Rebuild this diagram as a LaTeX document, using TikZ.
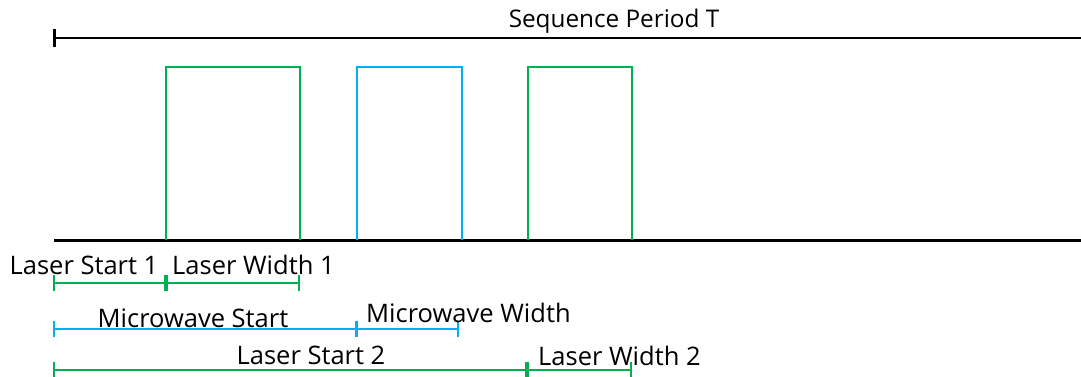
\documentclass[tikz,border=0pt]{standalone}
\usepackage{fontspec}
\setmainfont{Open Sans}
\usetikzlibrary{positioning}
\definecolor{lasergreen}{RGB}{0,176,80}
\definecolor{mwblue}{RGB}{0,176,240}
\tikzset{
    pulse/.style={line width=2pt},
    span/.style={line width=2pt},
    lbl/.style={inner sep=0pt, font=\fontsize{25.5}{30}\selectfont},
    ttl/.style={inner sep=0pt, font=\fontsize{24.3}{29}\selectfont}
}

\begin{document}
\begin{tikzpicture}[x=1pt, y=-1pt]
        \useasboundingbox (0,0) rectangle (1081,376);
        % time axis
        \coordinate (T0) at (54,38);
        \coordinate (T1) at (1081,38);
        \coordinate (B0) at (54,240);
        \coordinate (B1) at (1081,240);
        \draw[line width=2.5pt] (T0) -- (T1);
        \draw[line width=3pt] ([yshift=-9pt]T0) -- ([yshift=9pt]T0);
        \node[ttl] (title) at (614,21) {Sequence Period T};
        \draw[line width=3pt] (B0) -- (B1);
        
        % pulses
        \draw[pulse, lasergreen] (166,240) -- (166,67) -- (300,67) -- (300,240);
        \draw[pulse, mwblue] (357,240) -- (357,67) -- (462,67) -- (462,240);
        \draw[pulse, lasergreen] (528,240) -- (528,67) -- (632,67) -- (632,240);
        
        % laser 1
        \coordinate (a0) at (54,283);
        \coordinate (a1) at (166,283);
        \coordinate (a2) at (299,283);
        \draw[span, lasergreen] (a0) -- (a1) -- (a2);
        \draw[span, lasergreen] ([yshift=-8pt]a0) -- ([yshift=8pt]a0);
        \draw[line width=4pt, lasergreen] ([yshift=-8pt]a1) -- ([yshift=8pt]a1);
        \draw[span, lasergreen] ([yshift=-8pt]a2) -- ([yshift=8pt]a2);
        \node[lbl] (ls1) at (84,265) {Laser Start 1};
        \node[lbl, anchor=west] (lw1) at (172,265) {Laser Width 1};
        
        % microwave
        \coordinate (b0) at (54,329);
        \coordinate (b1) at (356,329);
        \coordinate (b2) at (458,329);
        \draw[span, mwblue] (b0) -- (b1) -- (b2);
        \draw[span, mwblue] ([yshift=-8pt]b0) -- ([yshift=8pt]b0);
        \draw[line width=3pt, mwblue] ([yshift=-8pt]b1) -- ([yshift=8pt]b1);
        \draw[span, mwblue] ([yshift=-8pt]b2) -- ([yshift=8pt]b2);
        \node[lbl] (mws) at (193,318) {Microwave Start};
        \node[lbl, anchor=west] (mww) at (366,313) {Microwave Width};
        
        % laser 2
        \coordinate (c0) at (54,370);
        \coordinate (c1) at (527,370);
        \coordinate (c2) at (631,370);
        \draw[span, lasergreen] (c0) -- (c1) -- (c2);
        \draw[span, lasergreen] ([yshift=-8pt]c0) -- ([yshift=8pt]c0);
        \draw[line width=4pt, lasergreen] ([yshift=-8pt]c1) -- ([yshift=8pt]c1);
        \draw[span, lasergreen] ([yshift=-8pt]c2) -- ([yshift=8pt]c2);
        \node[lbl] (ls2) at (311,355) {Laser Start 2};
        \node[lbl, anchor=west] (lw2) at (538,356) {Laser Width 2};
    \end{tikzpicture}
\end{document}
